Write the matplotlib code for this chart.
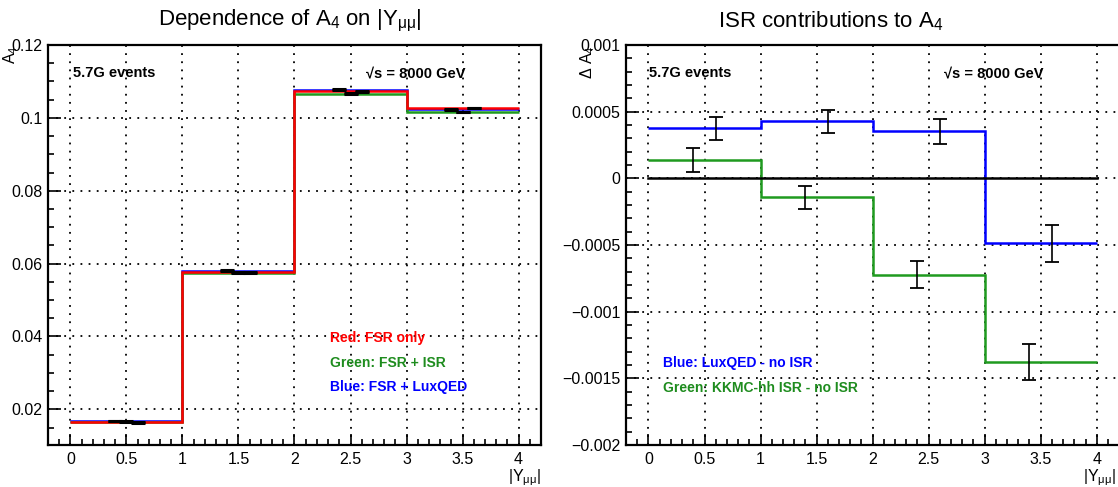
import matplotlib
matplotlib.use("Agg")
import matplotlib.pyplot as plt
import numpy as np

plt.rcParams['font.family'] = ['Liberation Sans', 'DejaVu Sans']
plt.rcParams['mathtext.fontset'] = 'custom'
plt.rcParams['mathtext.rm'] = 'Liberation Sans'
plt.rcParams['mathtext.it'] = 'Liberation Sans:italic'
plt.rcParams['mathtext.bf'] = 'Liberation Sans:bold'

# bins in |Y_mumu|
edges = [0, 1, 2, 3, 4]
x_ticks = [0, 0.5, 1, 1.5, 2, 2.5, 3, 3.5, 4]
x_ticklabels = ["0", "0.5", "1", "1.5", "2", "2.5", "3", "3.5", "4"]

# left: A4 per bin
a4_red = [0.0164, 0.0576, 0.1073, 0.1027]
a4_green = [0.0166, 0.0575, 0.1066, 0.1016]
a4_blue = [0.0168, 0.0581, 0.1077, 0.1023]
a4_err = [0.0001, 0.0001, 0.0001, 0.0001]
left_yticks = [0.02, 0.04, 0.06, 0.08, 0.1, 0.12]
left_yticklabels = ["0.02", "0.04", "0.06", "0.08", "0.1", "0.12"]

# right: delta A4
d_blue = [0.000375, 0.000428, 0.000352, -0.000488]
d_blue_err = [0.000088, 0.000088, 0.000096, 0.000139]
d_green = [0.000135, -0.000143, -0.000722, -0.001374]
d_green_err = [0.000089, 0.000089, 0.000101, 0.000135]
right_yticks = [-0.002, -0.0015, -0.001, -0.0005, 0, 0.0005, 0.001]
right_yticklabels = ["\u22120.002", "\u22120.0015", "\u22120.001", "\u22120.0005", "0", "0.0005", "0.001"]

RED = '#ff0000'
GREEN = '#1f9a1f'
BLUE = '#0000ff'
TXTGREEN = '#1e8c1e'

fig = plt.figure(figsize=(11.18, 4.87), dpi=100)
ax1 = fig.add_axes([0.0429, 0.0862, 0.441, 0.8214])
ax2 = fig.add_axes([0.560, 0.0862, 0.441, 0.8214])

centers = np.array(edges[:-1]) + 0.5
MUMU = "$_{\\mathrm{\u03bc\u03bc}}$"


def style_axes(ax, yticks, yticklabels, ylim, yminor):
    ax.set_xlim(-0.2, 4.2)
    ax.set_ylim(*ylim)
    ax.set_xticks(x_ticks)
    ax.set_xticklabels(x_ticklabels)
    ax.set_xticks(np.arange(-0.2, 4.21, 0.1), minor=True)
    ax.set_yticks(yticks)
    ax.set_yticklabels(yticklabels)
    ax.set_yticks(yminor, minor=True)
    ax.tick_params(which='both', direction='in', top=False, right=False,
                   labelsize=11.5, width=1.2)
    ax.tick_params(axis='x', which='major', length=8, pad=5)
    ax.tick_params(axis='x', which='minor', length=4)
    ax.tick_params(axis='y', which='major', length=9, pad=4)
    ax.tick_params(axis='y', which='minor', length=4.5)
    for s in ax.spines.values():
        s.set_linewidth(1.6)
    ax.grid(True, which='major', color='black', linestyle=(0, (1, 3.5)), linewidth=1.3)
    ax.set_axisbelow(True)


# ---- left panel
style_axes(ax1, left_yticks, left_yticklabels, (0.0102, 0.12),
           np.arange(0.015, 0.1201, 0.005))
ax1.stairs(a4_blue, edges, baseline=None, color=BLUE, lw=1.8)
ax1.stairs(a4_green, edges, baseline=None, color=GREEN, lw=1.8)
ax1.stairs(a4_red, edges, baseline=None, color=RED, lw=1.8)
ax1.errorbar(centers - 0.1, a4_blue, yerr=a4_err, fmt='none', ecolor='black',
             elinewidth=1.2, capsize=5, capthick=2.2)
ax1.errorbar(centers, a4_green, yerr=a4_err, fmt='none', ecolor='black',
             elinewidth=1.2, capsize=5, capthick=2.2)
ax1.errorbar(centers + 0.1, a4_red, yerr=a4_err, fmt='none', ecolor='black',
             elinewidth=1.2, capsize=5, capthick=2.2)

ax1.text(0.051, 0.93, "5.7G events", transform=ax1.transAxes, fontsize=10.5,
         fontweight='bold', va='center')
ax1.text(0.645, 0.93, "\u221as = 8000 GeV", transform=ax1.transAxes, fontsize=10.5,
         fontweight='bold', va='center')
ax1.text(0.572, 0.2675, "Red: FSR only", transform=ax1.transAxes, fontsize=10,
         fontweight='bold', color=RED, va='center')
ax1.text(0.572, 0.206, "Green: FSR + ISR", transform=ax1.transAxes, fontsize=10,
         fontweight='bold', color=TXTGREEN, va='center')
ax1.text(0.572, 0.146, "Blue: FSR + LuxQED", transform=ax1.transAxes, fontsize=10,
         fontweight='bold', color=BLUE, va='center')
ax1.text(-0.075, 1.0, r"A$_{4}$", transform=ax1.transAxes, rotation=90,
         ha='center', va='top', fontsize=11.5)
ax1.text(1.0, -0.055, "|Y" + MUMU + "|", transform=ax1.transAxes,
         ha='right', va='top', fontsize=11.5)

# ---- right panel
style_axes(ax2, right_yticks, right_yticklabels, (-0.002, 0.001),
           np.arange(-0.002, 0.00101, 0.0001))
ax2.plot([0, 4], [0, 0], color='black', lw=1.8)
ax2.stairs(d_blue, edges, baseline=None, color=BLUE, lw=1.8)
ax2.stairs(d_green, edges, baseline=None, color=GREEN, lw=1.8)
ax2.errorbar(centers - 0.1, d_green, yerr=d_green_err, fmt='none', ecolor='black',
             elinewidth=1.2, capsize=5, capthick=1.3)
ax2.errorbar(centers + 0.1, d_blue, yerr=d_blue_err, fmt='none', ecolor='black',
             elinewidth=1.2, capsize=5, capthick=1.3)

ax2.text(0.047, 0.93, "5.7G events", transform=ax2.transAxes, fontsize=10.5,
         fontweight='bold', va='center')
ax2.text(0.645, 0.93, "\u221as = 8000 GeV", transform=ax2.transAxes, fontsize=10.5,
         fontweight='bold', va='center')
ax2.text(0.074, 0.205, "Blue: LuxQED - no ISR", transform=ax2.transAxes, fontsize=10,
         fontweight='bold', color=BLUE, va='center')
ax2.text(0.074, 0.1425, "Green: KKMC-hh ISR - no ISR", transform=ax2.transAxes,
         fontsize=10, fontweight='bold', color=TXTGREEN, va='center')
ax2.text(-0.077, 1.0, r"$\Delta$ A$_{4}$", transform=ax2.transAxes, rotation=90,
         ha='center', va='top', fontsize=11.5)
ax2.text(0.993, -0.055, "|Y" + MUMU + "|", transform=ax2.transAxes,
         ha='right', va='top', fontsize=11.5)

# titles centred on each half of the canvas
fig.text(0.259, 0.957, "Dependence of A$_{4}$ on |Y" + MUMU + "|", ha='center',
         va='center', fontsize=16)
fig.text(0.743, 0.957, "ISR contributions to A$_{4}$", ha='center',
         va='center', fontsize=16)

fig.savefig("out.png", dpi=100)
